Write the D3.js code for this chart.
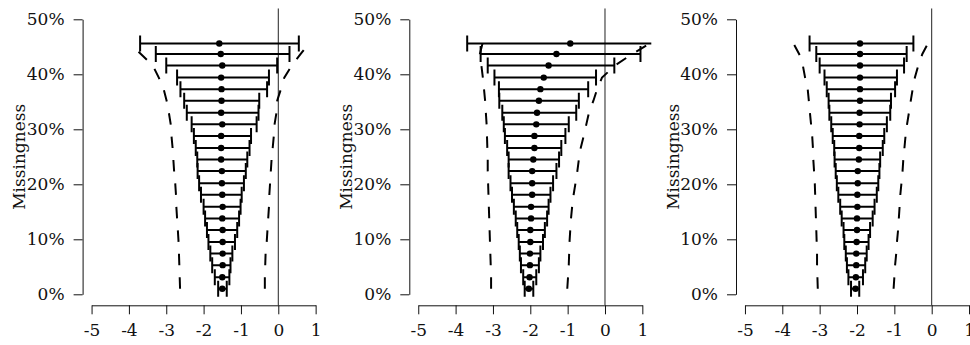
<!DOCTYPE html>
<html>
<head>
<meta charset="utf-8">
<script src="https://cdn.jsdelivr.net/npm/d3@7"></script>
<style>
  html, body { margin: 0; padding: 0; background: #fff; }
  svg { display: block; }
  text { font-family: "DejaVu Serif", serif; fill: #111; }
</style>
</head>
<body>
<svg id="chart" width="970" height="345"></svg>
<script>
// Missingness levels (%), bottom to top
const missingness = [1.0, 3.1, 5.3, 7.4, 9.5, 11.7, 13.8, 15.9, 18.1, 20.2, 22.4,
                     24.5, 26.6, 28.8, 30.9, 33.0, 35.2, 37.3, 39.4, 41.6, 43.7, 45.6];

const xTicks = [-5, -4, -3, -2, -1, 0, 1];
const yTicks = [0, 10, 20, 30, 40, 50];
const yTickLabels = ["0%", "10%", "20%", "30%", "40%", "50%"];
const yTitle = "Missingness";

// Panel 1
const est1 = [-1.50, -1.50, -1.49, -1.49, -1.49, -1.49, -1.50, -1.49, -1.50, -1.51, -1.51,
              -1.53, -1.53, -1.53, -1.50, -1.53, -1.52, -1.52, -1.53, -1.50, -1.54, -1.58];
const lo1 = [-1.61, -1.70, -1.77, -1.82, -1.87, -1.91, -1.96, -2.00, -2.07, -2.12, -2.16,
             -2.17, -2.21, -2.26, -2.32, -2.45, -2.52, -2.62, -2.71, -3.00, -3.28, -3.70];
const hi1 = [-1.38, -1.31, -1.28, -1.23, -1.16, -1.10, -1.05, -1.01, -0.98, -0.92, -0.87,
             -0.83, -0.77, -0.73, -0.58, -0.53, -0.51, -0.30, -0.25, -0.03, 0.30, 0.55];
const bandLo1 = [-2.63, -2.64, -2.65, -2.66, -2.67, -2.69, -2.71, -2.73, -2.74, -2.76, -2.79,
                 -2.81, -2.83, -2.86, -2.88, -2.93, -2.99, -3.07, -3.20, -3.36, -3.68, -3.97];
const bandHi1 = [-0.36, -0.36, -0.35, -0.34, -0.31, -0.29, -0.27, -0.25, -0.24, -0.22, -0.20,
                 -0.18, -0.15, -0.12, -0.10, -0.05, -0.03, 0.07, 0.16, 0.36, 0.60, 0.82];

// Panel 2
const est2 = [-2.04, -2.02, -2.01, -2.01, -2.00, -2.00, -1.98, -1.98, -1.95, -1.95, -1.95,
              -1.92, -1.89, -1.89, -1.84, -1.82, -1.77, -1.73, -1.64, -1.51, -1.30, -0.93];
const lo2 = [-2.15, -2.19, -2.25, -2.28, -2.31, -2.35, -2.39, -2.44, -2.49, -2.53, -2.58,
             -2.58, -2.62, -2.68, -2.71, -2.75, -2.83, -2.84, -2.96, -3.14, -3.33, -3.69];
const hi2 = [-1.92, -1.84, -1.77, -1.73, -1.66, -1.61, -1.55, -1.51, -1.46, -1.39, -1.30,
             -1.23, -1.17, -1.06, -0.97, -0.77, -0.70, -0.45, -0.24, 0.25, 0.95, 1.70];
const bandLo2 = [-3.05, -3.05, -3.06, -3.07, -3.08, -3.09, -3.10, -3.11, -3.12, -3.13, -3.14,
                 -3.14, -3.15, -3.16, -3.17, -3.19, -3.21, -3.24, -3.27, -3.31, -3.35, -3.28];
const bandHi2 = [-1.01, -0.99, -0.97, -0.96, -0.95, -0.93, -0.91, -0.88, -0.84, -0.79, -0.74,
                 -0.70, -0.65, -0.57, -0.50, -0.43, -0.31, -0.21, -0.08, 0.27, 0.73, 1.20];

// Panel 3
const est3 = [-2.04, -2.03, -2.02, -2.02, -2.01, -2.00, -2.00, -1.99, -1.99, -1.98, -1.98,
              -1.95, -1.94, -1.94, -1.93, -1.93, -1.92, -1.92, -1.92, -1.92, -1.92, -1.92];
const lo3 = [-2.16, -2.23, -2.27, -2.30, -2.34, -2.36, -2.41, -2.45, -2.50, -2.54, -2.57,
             -2.60, -2.61, -2.65, -2.69, -2.74, -2.76, -2.81, -2.87, -3.00, -3.09, -3.27];
const hi3 = [-1.94, -1.84, -1.78, -1.74, -1.69, -1.65, -1.58, -1.53, -1.47, -1.43, -1.40,
             -1.38, -1.31, -1.27, -1.20, -1.11, -1.09, -0.98, -0.93, -0.74, -0.67, -0.49];
const bandLo3 = [-3.05, -3.06, -3.07, -3.07, -3.08, -3.09, -3.10, -3.11, -3.12, -3.13, -3.15,
                 -3.17, -3.18, -3.20, -3.23, -3.26, -3.29, -3.32, -3.39, -3.45, -3.55, -3.70];
const bandHi3 = [-1.02, -1.00, -0.98, -0.95, -0.93, -0.90, -0.88, -0.86, -0.84, -0.81, -0.78,
                 -0.76, -0.73, -0.70, -0.66, -0.61, -0.56, -0.51, -0.45, -0.36, -0.25, -0.10];

const panels = [
  { left: 82.6,  est: est1, lo: lo1, hi: hi1, bandLo: bandLo1, bandHi: bandHi1 },
  { left: 409.3, est: est2, lo: lo2, hi: hi2, bandLo: bandLo2, bandHi: bandHi2 },
  { left: 736.0, est: est3, lo: lo3, hi: hi3, bandLo: bandLo3, bandHi: bandHi3 }
];

const svg = d3.select("#chart");
const plotWidth = 242;
const plotTop = 8.3, plotBottom = 305.3;
const capHalf = 8;
const fontSize = 17;

panels.forEach((p, i) => {
  const g = svg.append("g");
  // plotting region: x spans [-5.24, 1.24], y spans [-2, 52]
  const x = d3.scaleLinear().domain([-5.24, 1.24]).range([p.left, p.left + plotWidth]);
  const y = d3.scaleLinear().domain([-2, 52]).range([plotBottom, plotTop]);

  const clipId = "clip" + i;
  svg.append("clipPath").attr("id", clipId)
    .append("rect")
    .attr("x", x(-5.24)).attr("y", plotTop)
    .attr("width", plotWidth).attr("height", plotBottom - plotTop);

  const plot = g.append("g").attr("clip-path", `url(#${clipId})`);

  // reference line at zero
  plot.append("line")
    .attr("x1", x(0)).attr("x2", x(0))
    .attr("y1", plotTop).attr("y2", plotBottom)
    .attr("stroke", "#222").attr("stroke-width", 1);

  const rows = missingness.map((m, k) => ({ m, est: p.est[k], lo: p.lo[k], hi: p.hi[k] }));

  // interval bars
  plot.selectAll(".bar").data(rows).join("line")
    .attr("x1", d => x(d.lo)).attr("x2", d => x(d.hi))
    .attr("y1", d => y(d.m)).attr("y2", d => y(d.m))
    .attr("stroke", "#000").attr("stroke-width", 2);

  // caps
  ["lo", "hi"].forEach(key => {
    plot.selectAll(".cap-" + key).data(rows).join("line")
      .attr("x1", d => x(d[key])).attr("x2", d => x(d[key]))
      .attr("y1", d => y(d.m) - capHalf).attr("y2", d => y(d.m) + capHalf)
      .attr("stroke", "#000").attr("stroke-width", 2);
  });

  // point estimates
  plot.selectAll(".pt").data(rows).join("circle")
    .attr("cx", d => x(d.est)).attr("cy", d => y(d.m)).attr("r", 3.2)
    .attr("fill", "#000");

  // dashed envelope curves
  [p.bandLo, p.bandHi].forEach(band => {
    const line = d3.line().x(d => x(d[1])).y(d => y(d[0]));
    plot.append("path")
      .datum(missingness.map((m, k) => [m, band[k]]))
      .attr("d", line)
      .attr("fill", "none").attr("stroke", "#000")
      .attr("stroke-width", 2).attr("stroke-dasharray", "11.5,12");
  });

  // axes
  const xAxisScale = d3.scaleLinear().domain([-5, 1]).range([x(-5), x(1)]);
  const yAxisScale = d3.scaleLinear().domain([0, 50]).range([y(0), y(50)]);

  const xAxis = g.append("g")
    .attr("transform", `translate(0,${plotBottom})`)
    .call(d3.axisBottom(xAxisScale).tickValues(xTicks).tickFormat(d3.format("d"))
      .tickSize(9).tickSizeOuter(0).tickPadding(10));
  const yAxis = g.append("g")
    .attr("transform", `translate(${p.left},0)`)
    .call(d3.axisLeft(yAxisScale).tickValues(yTicks).tickFormat((d, k) => yTickLabels[k])
      .tickSize(9).tickSizeOuter(0).tickPadding(9));

  [xAxis, yAxis].forEach(ax => {
    ax.selectAll("path, line").attr("stroke", "#111").attr("stroke-width", 1);
    ax.selectAll("text")
      .attr("font-family", "DejaVu Serif, serif")
      .attr("font-size", fontSize).attr("fill", "#111");
  });
  xAxis.selectAll("text").text(d => d < 0 ? "-" + Math.abs(d) : String(d));

  g.append("text")
    .attr("transform", `translate(${p.left - 57.5},${(plotTop + plotBottom) / 2}) rotate(-90)`)
    .attr("text-anchor", "middle")
    .attr("font-size", fontSize)
    .text(yTitle);
});
</script>
</body>
</html>
